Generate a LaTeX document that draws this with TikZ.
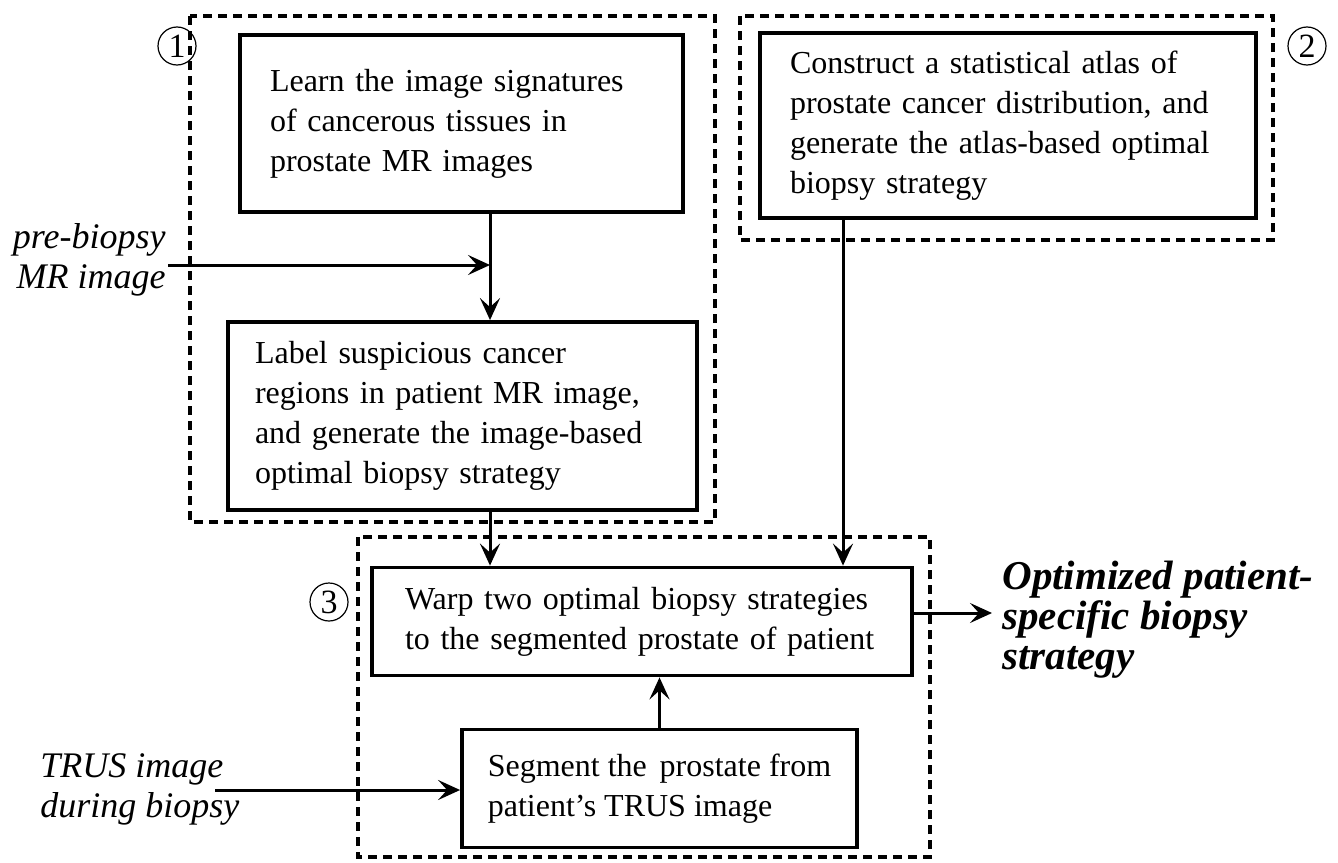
\documentclass[tikz,border=0pt]{standalone}
\usepackage{fontspec}
\setmainfont{Liberation Serif}
\usetikzlibrary{arrows.meta,calc}
\tikzset{
  procbox/.style={draw, line width=1.9pt, align=left, inner sep=0pt, font=\fontsize{16}{20}\selectfont},
  groupbox/.style={draw, line width=1.6pt, dash pattern=on 4.5pt off 3pt},
  arr/.style={line width=1.5pt, -{Stealth[length=11pt,width=10pt,inset=4.5pt]}},
  inlabel/.style={font=\fontsize{18}{20}\selectfont\itshape},
  outlabel/.style={font=\fontsize{20.5}{20}\selectfont\bfseries\itshape, align=left},
  num/.style={circle, draw, line width=0.6pt, inner sep=0pt, minimum size=19pt, font=\fontsize{17}{17}\selectfont}
}
\begin{document}
\begin{tikzpicture}[x=0.5pt,y=-0.5pt]
\useasboundingbox (0,0) rectangle (1338,862);

% group frames
\draw[groupbox] (190,16) rectangle (715,522);
\draw[groupbox] (740,16) rectangle (1273,240);
\draw[groupbox] (358,537) rectangle (930,857);

% circled numbers
\node[num] (n1) at (177,46) {1};
\node[num] (n2) at (1307,46) {2};
\node[num] (n3) at (329,602) {3};

% process boxes
\node[procbox, minimum width=221.5pt, minimum height=88.5pt, text width=191.5pt] (learn) at (461.5,123.5)
  {Learn the image signatures\\of cancerous tissues in\\prostate MR images};
\node[procbox, minimum width=234.5pt, minimum height=94pt, text width=207.5pt] (label) at (462.5,416)
  {Label suspicious cancer\\regions in patient MR image,\\and generate the image-based\\optimal biopsy strategy};
\node[procbox, minimum width=248pt, minimum height=92.5pt, text width=218pt] (atlas) at (1008,125.5)
  {Construct a statistical atlas of\\prostate cancer distribution, and\\generate the atlas-based optimal\\biopsy strategy};
\node[procbox, minimum width=270pt, minimum height=54pt, text width=237pt] (warp) at (642,621.5)
  {Warp two optimal biopsy strategies\\to the segmented prostate of patient};
\node[procbox, minimum width=197.5pt, minimum height=59pt] (seg) at (659.5,788.5)
  {Segment the\hspace{0.4em}prostate from\\patient's TRUS image};

% input / output labels
\node[inlabel, align=right, anchor=east, inner sep=0pt] (pre) at (166,260) {pre-biopsy\\MR image};
\node[inlabel, align=left, anchor=west, inner sep=0pt] (trus) at (40,789) {TRUS image\\during biopsy};
\node[outlabel, anchor=west, inner sep=0pt] (out) at (1002,620) {Optimized patient-\\specific biopsy\\strategy};

% helper coordinates
\coordinate (cxA) at (490,0);
\coordinate (cxB) at (843,0);
\coordinate (pj) at (490,265);
\coordinate (prestart) at (168,265);
\coordinate (trusstart) at (215,790);
\coordinate (outend) at (992,613);
\coordinate (warpout) at (912,613);

% connectors
\draw[arr] (learn.south -| cxA) -- (label.north -| cxA);
\draw[arr] (prestart) -- (pj);
\draw[arr] (label.south -| cxA) -- (warp.north -| cxA);
\draw[arr] (atlas.south -| cxB) -- (warp.north -| cxB);
\draw[arr] (seg.north) -- (warp.south -| seg.north);
\draw[arr] (trusstart) -- (seg.west |- trusstart);
\draw[arr] (warpout) -- (outend);
\end{tikzpicture}
\end{document}
